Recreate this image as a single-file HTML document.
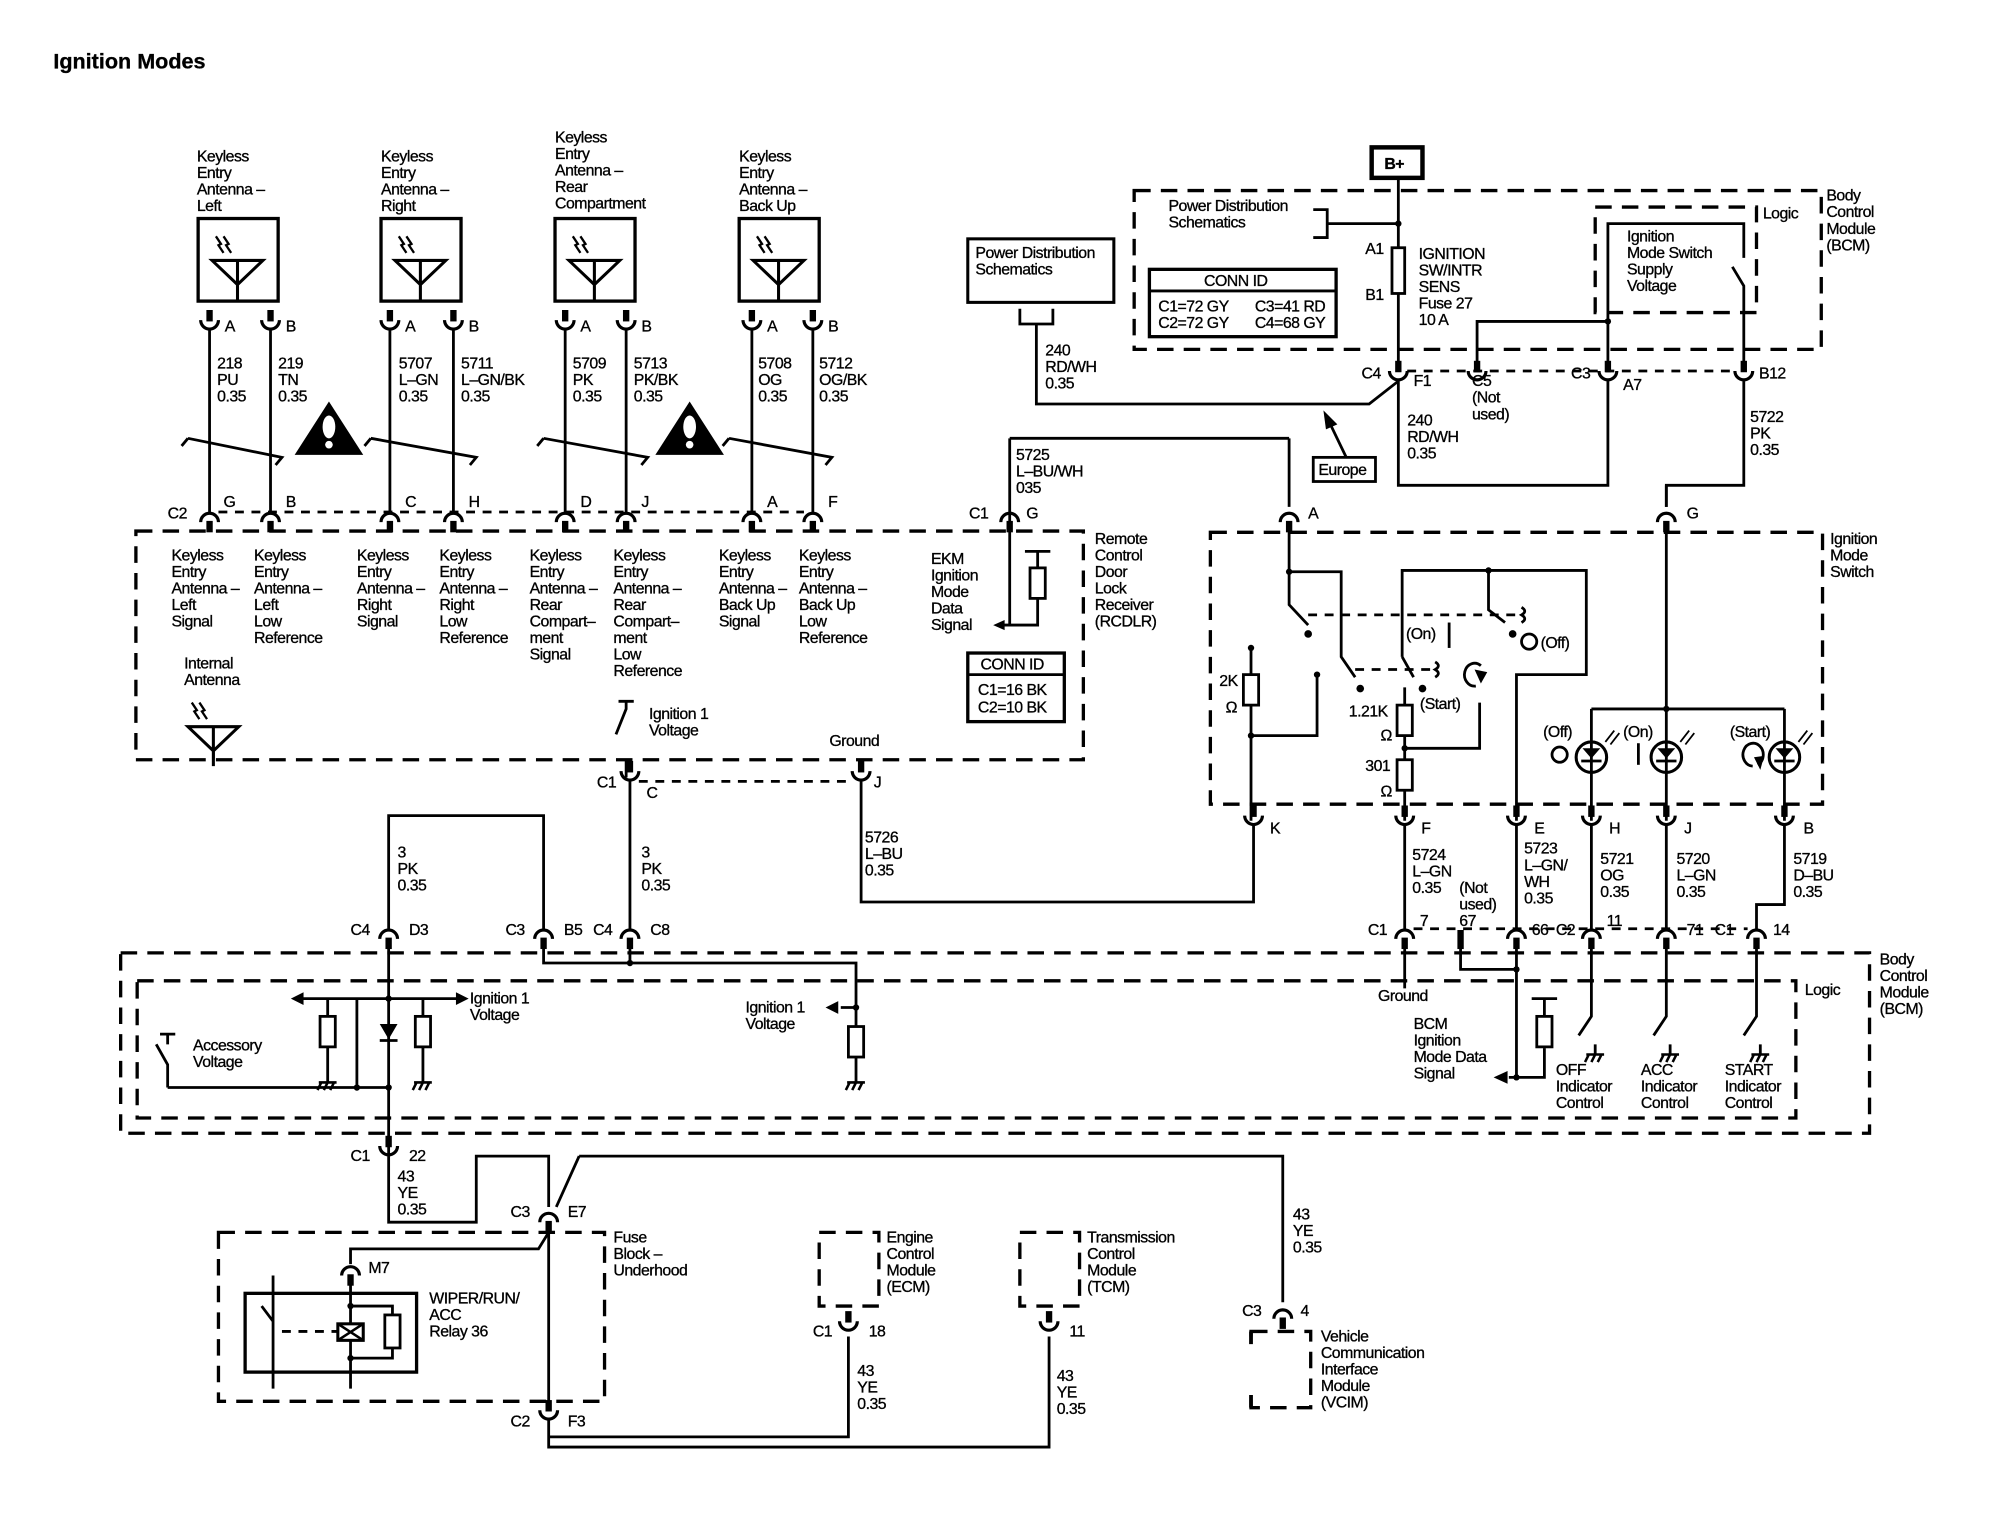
<!DOCTYPE html>
<html><head><meta charset="utf-8"><style>
html,body{margin:0;padding:0;background:#fff}
svg{display:block}
text{font-family:"Liberation Sans",Arial,sans-serif;font-size:12.5px;fill:#000;letter-spacing:-0.4px;stroke:#000;stroke-width:0.25}
.w{stroke:#000;stroke-width:2.2;fill:none}
.d{stroke:#000;stroke-width:2.6;fill:none;stroke-dasharray:13 8}
.ds{stroke:#000;stroke-width:2.2;fill:none;stroke-dasharray:7 6}
.b{stroke:#000;stroke-width:2.6;fill:#fff}
</style></head><body>
<svg width="1994" height="1536" viewBox="0 0 1570 1209" preserveAspectRatio="none" xmlns="http://www.w3.org/2000/svg">
<defs>
<g id="U"><path d="M0,-12V-3" stroke="#000" stroke-width="5"/><path d="M-7,-4A7,7 0 0 0 7,-4" stroke="#000" stroke-width="2.5" fill="none"/></g>
<g id="N"><path d="M0,12V3" stroke="#000" stroke-width="5"/><path d="M-7,4A7,7 0 0 1 7,4" stroke="#000" stroke-width="2.5" fill="none"/></g>
<g id="G"><path d="M-7,0H7M-5,0l-3,6M0,0l-3,6M5,0l-3,6" stroke="#000" stroke-width="2" fill="none"/></g>
<g id="ANT"><path d="M-20,0H20L0,19ZM0,0V31" stroke="#000" stroke-width="2.4" fill="none"/><path d="M-17,-19l4,6-2,1 4,6M-11,-19l4,6-2,1 4,6" stroke="#000" stroke-width="1.8" fill="none"/></g>
<g id="R"><rect x="-6" y="0" width="12" height="24" fill="#fff" stroke="#000" stroke-width="2.2"/></g>
<g id="WARN"><path d="M0,-22L27,20H-27Z" fill="#000"/><ellipse cx="0" cy="-2" rx="5" ry="9" fill="#fff"/><circle cx="0" cy="12" r="3" fill="#fff"/></g>
</defs>

<text x="42" y="54" style="font-size:17px;font-weight:bold;letter-spacing:0">Ignition Modes</text>

<g>
<text x="155" y="127"><tspan x="155">Keyless</tspan><tspan x="155" dy="13">Entry</tspan><tspan x="155" dy="13">Antenna –</tspan><tspan x="155" dy="13">Left</tspan></text>
<text x="300" y="127"><tspan x="300">Keyless</tspan><tspan x="300" dy="13">Entry</tspan><tspan x="300" dy="13">Antenna –</tspan><tspan x="300" dy="13">Right</tspan></text>
<text x="437" y="112"><tspan x="437">Keyless</tspan><tspan x="437" dy="13">Entry</tspan><tspan x="437" dy="13">Antenna –</tspan><tspan x="437" dy="13">Rear</tspan><tspan x="437" dy="13">Compartment</tspan></text>
<text x="582" y="127"><tspan x="582">Keyless</tspan><tspan x="582" dy="13">Entry</tspan><tspan x="582" dy="13">Antenna –</tspan><tspan x="582" dy="13">Back Up</tspan></text>
<rect class="b" x="156" y="172" width="63" height="65"/>
<rect class="b" x="300" y="172" width="63" height="65"/>
<rect class="b" x="437" y="172" width="63" height="65"/>
<rect class="b" x="582" y="172" width="63" height="65"/>
<use href="#ANT" x="187" y="205"/><use href="#ANT" x="331" y="205"/><use href="#ANT" x="468" y="205"/><use href="#ANT" x="613" y="205"/>
</g>
<g class="w">
<path d="M165,260V403M213,260V403M307,260V403M357,260V403M445,260V403M493,260V403M592,260V403M640,260V403"/>
<path d="M148,345l-5,6M148,345L222,360l-5,6M292,345l-5,6M292,345L375,360l-5,6M428,345l-5,6M428,345L510,360l-5,6M574,345l-5,6M574,345L655,360l-5,6"/>
</g>
<use href="#U" x="165" y="256"/><use href="#U" x="213" y="256"/><use href="#U" x="307" y="256"/><use href="#U" x="357" y="256"/>
<use href="#U" x="445" y="256"/><use href="#U" x="493" y="256"/><use href="#U" x="592" y="256"/><use href="#U" x="640" y="256"/>
<g>
<text x="177" y="261">A</text><text x="225" y="261">B</text><text x="319" y="261">A</text><text x="369" y="261">B</text>
<text x="457" y="261">A</text><text x="505" y="261">B</text><text x="604" y="261">A</text><text x="652" y="261">B</text>
<text x="171" y="290"><tspan x="171">218</tspan><tspan x="171" dy="13">PU</tspan><tspan x="171" dy="13">0.35</tspan></text>
<text x="219" y="290"><tspan x="219">219</tspan><tspan x="219" dy="13">TN</tspan><tspan x="219" dy="13">0.35</tspan></text>
<text x="314" y="290"><tspan x="314">5707</tspan><tspan x="314" dy="13">L–GN</tspan><tspan x="314" dy="13">0.35</tspan></text>
<text x="363" y="290"><tspan x="363">5711</tspan><tspan x="363" dy="13">L–GN/BK</tspan><tspan x="363" dy="13">0.35</tspan></text>
<text x="451" y="290"><tspan x="451">5709</tspan><tspan x="451" dy="13">PK</tspan><tspan x="451" dy="13">0.35</tspan></text>
<text x="499" y="290"><tspan x="499">5713</tspan><tspan x="499" dy="13">PK/BK</tspan><tspan x="499" dy="13">0.35</tspan></text>
<text x="597" y="290"><tspan x="597">5708</tspan><tspan x="597" dy="13">OG</tspan><tspan x="597" dy="13">0.35</tspan></text>
<text x="645" y="290"><tspan x="645">5712</tspan><tspan x="645" dy="13">OG/BK</tspan><tspan x="645" dy="13">0.35</tspan></text>
</g>
<use href="#WARN" x="259" y="338"/><use href="#WARN" x="543" y="338"/>

<path class="ds" d="M172,403H633"/>
<use href="#N" x="165" y="407"/><use href="#N" x="213" y="407"/><use href="#N" x="307" y="407"/><use href="#N" x="357" y="407"/>
<use href="#N" x="445" y="407"/><use href="#N" x="493" y="407"/><use href="#N" x="592" y="407"/><use href="#N" x="640" y="407"/>
<text x="132" y="408">C2</text><text x="176" y="399">G</text><text x="225" y="399">B</text><text x="319" y="399">C</text><text x="369" y="399">H</text>
<text x="457" y="399">D</text><text x="505" y="399">J</text><text x="604" y="399">A</text><text x="652" y="399">F</text>

<path class="d" d="M107,418H853V598H107Z"/>
<g>
<text y="441"><tspan x="135">Keyless</tspan><tspan x="135" dy="13">Entry</tspan><tspan x="135" dy="13">Antenna –</tspan><tspan x="135" dy="13">Left</tspan><tspan x="135" dy="13">Signal</tspan></text>
<text y="441"><tspan x="200">Keyless</tspan><tspan x="200" dy="13">Entry</tspan><tspan x="200" dy="13">Antenna –</tspan><tspan x="200" dy="13">Left</tspan><tspan x="200" dy="13">Low</tspan><tspan x="200" dy="13">Reference</tspan></text>
<text y="441"><tspan x="281">Keyless</tspan><tspan x="281" dy="13">Entry</tspan><tspan x="281" dy="13">Antenna –</tspan><tspan x="281" dy="13">Right</tspan><tspan x="281" dy="13">Signal</tspan></text>
<text y="441"><tspan x="346">Keyless</tspan><tspan x="346" dy="13">Entry</tspan><tspan x="346" dy="13">Antenna –</tspan><tspan x="346" dy="13">Right</tspan><tspan x="346" dy="13">Low</tspan><tspan x="346" dy="13">Reference</tspan></text>
<text y="441"><tspan x="417">Keyless</tspan><tspan x="417" dy="13">Entry</tspan><tspan x="417" dy="13">Antenna –</tspan><tspan x="417" dy="13">Rear</tspan><tspan x="417" dy="13">Compart–</tspan><tspan x="417" dy="13">ment</tspan><tspan x="417" dy="13">Signal</tspan></text>
<text y="441"><tspan x="483">Keyless</tspan><tspan x="483" dy="13">Entry</tspan><tspan x="483" dy="13">Antenna –</tspan><tspan x="483" dy="13">Rear</tspan><tspan x="483" dy="13">Compart–</tspan><tspan x="483" dy="13">ment</tspan><tspan x="483" dy="13">Low</tspan><tspan x="483" dy="13">Reference</tspan></text>
<text y="441"><tspan x="566">Keyless</tspan><tspan x="566" dy="13">Entry</tspan><tspan x="566" dy="13">Antenna –</tspan><tspan x="566" dy="13">Back Up</tspan><tspan x="566" dy="13">Signal</tspan></text>
<text y="441"><tspan x="629">Keyless</tspan><tspan x="629" dy="13">Entry</tspan><tspan x="629" dy="13">Antenna –</tspan><tspan x="629" dy="13">Back Up</tspan><tspan x="629" dy="13">Low</tspan><tspan x="629" dy="13">Reference</tspan></text>
<text y="526"><tspan x="145">Internal</tspan><tspan x="145" dy="13">Antenna</tspan></text>
<text y="566"><tspan x="511">Ignition 1</tspan><tspan x="511" dy="13">Voltage</tspan></text>
<text x="653" y="587">Ground</text>
<text y="444"><tspan x="733">EKM</tspan><tspan x="733" dy="13">Ignition</tspan><tspan x="733" dy="13">Mode</tspan><tspan x="733" dy="13">Data</tspan><tspan x="733" dy="13">Signal</tspan></text>
<text y="428"><tspan x="862">Remote</tspan><tspan x="862" dy="13">Control</tspan><tspan x="862" dy="13">Door</tspan><tspan x="862" dy="13">Lock</tspan><tspan x="862" dy="13">Receiver</tspan><tspan x="862" dy="13">(RCDLR)</tspan></text>
</g>
<use href="#ANT" x="168" y="572"/>
<path class="w" d="M168,590V598"/>
<path class="w" d="M487,552H499M493,552V558L485,578M493,598V612"/>
<path class="w" d="M795,345V492H790M795,492H817V470M817,447V434M807,434H827M1015,345H795"/>
<path d="M782,492l9,-4v8z" fill="#000"/>
<use href="#R" x="817" y="447"/>
<use href="#N" x="795" y="407"/>
<text x="763" y="408">C1</text><text x="808" y="408">G</text>
<text y="362"><tspan x="800">5725</tspan><tspan x="800" dy="13">L–BU/WH</tspan><tspan x="800" dy="13">035</tspan></text>
<rect class="b" x="762" y="514" width="76" height="54"/>
<path class="w" d="M762,531H838"/>
<text x="772" y="527">CONN ID</text><text x="770" y="547">C1=16 BK</text><text x="770" y="561">C2=10 BK</text>

<path class="ds" d="M503,615H672"/>
<use href="#U" x="496" y="611"/><use href="#U" x="678" y="611"/>
<text x="470" y="620">C1</text><text x="509" y="628">C</text><text x="688" y="620">J</text>
<path class="w" d="M678,615V710H987V650"/>
<text y="663"><tspan x="681">5726</tspan><tspan x="681" dy="13">L–BU</tspan><tspan x="681" dy="13">0.35</tspan></text>
<path class="w" d="M496,615V731"/>
<text y="675"><tspan x="505">3</tspan><tspan x="505" dy="13">PK</tspan><tspan x="505" dy="13">0.35</tspan></text>
<path class="w" d="M306,731V642H428V731"/>
<text y="675"><tspan x="313">3</tspan><tspan x="313" dy="13">PK</tspan><tspan x="313" dy="13">0.35</tspan></text>
<use href="#N" x="306" y="735"/><use href="#N" x="428" y="735"/><use href="#N" x="496" y="735"/>
<text x="276" y="736">C4</text><text x="322" y="736">D3</text><text x="398" y="736">C3</text><text x="444" y="736">B5</text><text x="467" y="736">C4</text><text x="512" y="736">C8</text>

<path class="d" d="M95,750H1472V892H95Z"/>
<path class="d" d="M108,772H1414V880H108Z"/>
<text x="1421" y="783">Logic</text>
<text y="759"><tspan x="1480">Body</tspan><tspan x="1480" dy="13">Control</tspan><tspan x="1480" dy="13">Module</tspan><tspan x="1480" dy="13">(BCM)</tspan></text>
<path class="w" d="M306,740V910M238,786H360M258,786V800M258,824V852M281,786V856M132,856H306M333,786V800M333,824V852M132,856V838L123,822M126,814H138M132,814V822"/>
<path d="M229,786l10,-5v10zM369,786l-10,-5v10z" fill="#000"/>
<path d="M299,806H313L306,818Z" fill="#000"/><path class="w" d="M299,819H313"/>
<use href="#R" x="258" y="800"/><use href="#R" x="333" y="800"/>
<use href="#G" x="258" y="852"/><use href="#G" x="333" y="852"/>
<circle cx="306" cy="786" r="2.5"/><circle cx="306" cy="856" r="2.5"/><circle cx="281" cy="856" r="2.5"/>
<text y="790"><tspan x="370">Ignition 1</tspan><tspan x="370" dy="13">Voltage</tspan></text>
<text y="827"><tspan x="152">Accessory</tspan><tspan x="152" dy="13">Voltage</tspan></text>
<path class="w" d="M428,740V758H674V808M674,832V852M496,740V758M662,793H674"/>
<path d="M650,793l10,-5v10z" fill="#000"/>
<use href="#R" x="674" y="808"/><use href="#G" x="674" y="852"/>
<circle cx="496" cy="758" r="2.5"/><circle cx="674" cy="793" r="2.5"/>
<text y="797"><tspan x="587">Ignition 1</tspan><tspan x="587" dy="13">Voltage</tspan></text>

<use href="#U" x="306" y="906"/>
<text x="276" y="914">C1</text><text x="322" y="914">22</text>
<text y="930"><tspan x="313">43</tspan><tspan x="313" dy="13">YE</tspan><tspan x="313" dy="13">0.35</tspan></text>
<path class="w" d="M306,910V962H375V910H432V950M456,910H1010V1025M456,910L438,950"/>
<use href="#N" x="432" y="958"/>
<text x="402" y="958">C3</text><text x="447" y="958">E7</text>
<text y="960"><tspan x="1018">43</tspan><tspan x="1018" dy="13">YE</tspan><tspan x="1018" dy="13">0.35</tspan></text>
<use href="#N" x="1010" y="1034"/>
<text x="978" y="1036">C3</text><text x="1024" y="1036">4</text>
<path class="d" d="M985,1048H1032V1108H985Z"/>
<rect x="980" y="1058" width="20" height="40" fill="#fff"/>
<path class="w" d="M985,1048V1058M985,1098V1108" style="stroke-width:3"/>
<text y="1056"><tspan x="1040">Vehicle</tspan><tspan x="1040" dy="13">Communication</tspan><tspan x="1040" dy="13">Interface</tspan><tspan x="1040" dy="13">Module</tspan><tspan x="1040" dy="13">(VCIM)</tspan></text>

<path class="d" d="M172,970H476V1103H172Z"/>
<text y="978"><tspan x="483">Fuse</tspan><tspan x="483" dy="13">Block –</tspan><tspan x="483" dy="13">Underhood</tspan></text>
<path class="w" d="M432,966V1110M432,970L424,983H276V995"/>
<use href="#N" x="276" y="1000"/>
<text x="290" y="1002">M7</text>
<rect x="193" y="1018" width="135" height="62" fill="none" stroke="#000" stroke-width="2.6"/>
<path class="w" d="M276,1004V1042M276,1055V1093M276,1028H309V1035M309,1061V1069H276M215,1004V1040L206,1028M215,1040V1093"/>
<path class="ds" d="M222,1048H267"/>
<rect x="266" y="1042" width="20" height="13" fill="#fff" stroke="#000" stroke-width="2.4"/>
<path d="M266,1042L286,1055M286,1042L266,1055" stroke="#000" stroke-width="2"/>
<rect x="303" y="1035" width="12" height="26" fill="#fff" stroke="#000" stroke-width="2.2"/>
<circle cx="276" cy="1028" r="2.5"/><circle cx="276" cy="1069" r="2.5"/>
<text y="1026"><tspan x="338">WIPER/RUN/</tspan><tspan x="338" dy="13">ACC</tspan><tspan x="338" dy="13">Relay 36</tspan></text>
<use href="#U" x="432" y="1114"/>
<text x="402" y="1123">C2</text><text x="447" y="1123">F3</text>
<path class="w" d="M432,1118V1139H826V1052M432,1131H668V1052"/>
<path class="d" d="M645,970H692V1028H645Z"/>
<path class="d" d="M803,970H850V1028H803Z"/>
<use href="#U" x="668" y="1044"/><use href="#U" x="826" y="1044"/>
<text x="640" y="1052">C1</text><text x="684" y="1052">18</text><text x="842" y="1052">11</text>
<text y="1083"><tspan x="675">43</tspan><tspan x="675" dy="13">YE</tspan><tspan x="675" dy="13">0.35</tspan></text>
<text y="1087"><tspan x="832">43</tspan><tspan x="832" dy="13">YE</tspan><tspan x="832" dy="13">0.35</tspan></text>
<text y="978"><tspan x="698">Engine</tspan><tspan x="698" dy="13">Control</tspan><tspan x="698" dy="13">Module</tspan><tspan x="698" dy="13">(ECM)</tspan></text>
<text y="978"><tspan x="856">Transmission</tspan><tspan x="856" dy="13">Control</tspan><tspan x="856" dy="13">Module</tspan><tspan x="856" dy="13">(TCM)</tspan></text>

<rect x="1080" y="116" width="40" height="24" fill="#fff" stroke="#000" stroke-width="3.5"/>
<text x="1090" y="133" style="font-weight:bold">B+</text>
<path class="d" d="M893,150H1434V275H893Z"/>
<text><tspan x="1438" y="158">Body</tspan><tspan x="1438" dy="13">Control</tspan><tspan x="1438" dy="13">Module</tspan><tspan x="1438" dy="13">(BCM)</tspan></text>
<path class="w" d="M1101,140V288M1034,165H1045V187H1034M1045,176H1101"/>
<circle cx="1101" cy="176" r="2.5"/>
<text y="166"><tspan x="920">Power Distribution</tspan><tspan x="920" dy="13">Schematics</tspan></text>
<rect x="1096" y="195" width="10" height="36" fill="#fff" stroke="#000" stroke-width="2.2"/>
<text x="1075" y="200">A1</text><text x="1075" y="236">B1</text>
<text y="204"><tspan x="1117">IGNITION</tspan><tspan x="1117" dy="13">SW/INTR</tspan><tspan x="1117" dy="13">SENS</tspan><tspan x="1117" dy="13">Fuse 27</tspan><tspan x="1117" dy="13">10 A</tspan></text>
<rect x="905" y="212" width="147" height="53" fill="#fff" stroke="#000" stroke-width="2.6"/>
<path class="w" d="M905,229H1052"/>
<text x="948" y="225">CONN ID</text>
<text x="912" y="245">C1=72 GY</text><text x="988" y="245">C3=41 RD</text>
<text x="912" y="258">C2=72 GY</text><text x="988" y="258">C4=68 GY</text>
<path class="d" d="M1256,163H1383V246H1256Z"/>
<text x="1388" y="172">Logic</text>
<text y="190"><tspan x="1281">Ignition</tspan><tspan x="1281" dy="13">Mode Switch</tspan><tspan x="1281" dy="13">Supply</tspan><tspan x="1281" dy="13">Voltage</tspan></text>
<path class="w" d="M1163,288V253H1266M1266,288V176H1373V203M1364,210L1373,225V288"/>
<circle cx="1266" cy="253" r="2.5"/>
<path class="ds" d="M1108,292H1366"/>
<use href="#U" x="1101" y="296"/><use href="#U" x="1163" y="296"/><use href="#U" x="1266" y="296"/><use href="#U" x="1373" y="296"/>
<text x="1072" y="298">C4</text><text x="1113" y="304">F1</text>
<text y="304"><tspan x="1159">C5</tspan><tspan x="1159" dy="13">(Not</tspan><tspan x="1159" dy="13">used)</tspan></text>
<text x="1237" y="298">C3</text><text x="1278" y="307">A7</text><text x="1385" y="298">B12</text>
<path class="w" d="M1101,300V382H1266V300M1373,300V382H1312V399"/>
<text y="335"><tspan x="1108">240</tspan><tspan x="1108" dy="13">RD/WH</tspan><tspan x="1108" dy="13">0.35</tspan></text>
<text y="332"><tspan x="1378">5722</tspan><tspan x="1378" dy="13">PK</tspan><tspan x="1378" dy="13">0.35</tspan></text>
<rect x="762" y="188" width="115" height="50" fill="#fff" stroke="#000" stroke-width="2.4"/>
<text y="203"><tspan x="768">Power Distribution</tspan><tspan x="768" dy="13">Schematics</tspan></text>
<path class="w" d="M803,243V255H829V243M816,255V318H1078L1101,300"/>
<text y="280"><tspan x="823">240</tspan><tspan x="823" dy="13">RD/WH</tspan><tspan x="823" dy="13">0.35</tspan></text>
<rect x="1034" y="360" width="49" height="19" fill="#fff" stroke="#000" stroke-width="2.2"/>
<text x="1038" y="374">Europe</text>
<path class="w" d="M1060,360L1047,333"/>
<path d="M1042,323l2,15 9,-4z" fill="#000"/>

<path class="w" d="M1015,345V399M1312,382V399"/>
<use href="#N" x="1015" y="407"/><use href="#N" x="1312" y="407"/>
<text x="1030" y="408">A</text><text x="1328" y="408">G</text>
<path class="d" d="M953,419H1435V633H953Z"/>
<text y="428"><tspan x="1441">Ignition</tspan><tspan x="1441" dy="13">Mode</tspan><tspan x="1441" dy="13">Switch</tspan></text>
<g class="w">
<path d="M1015,411V476L1030,492M1015,450H1056V517L1067,533"/>
<path d="M1104,517V449H1249V531H1194V646M1104,517L1113,533M1172,449V480L1185,490"/>
<path d="M985,510V531M985,555V646M985,579H1037V531"/>
<path d="M1106,541V555M1106,579V598M1106,623V646M1106,589H1165V553"/>
<path d="M1312,411V646M1253,558H1405M1253,558V646M1405,558V646"/>
</g>
<path class="ds" d="M1030,484H1198M1067,527H1128"/>
<path class="w" d="M1198,478q5,3 0,6q5,3 0,6M1130,521q5,3 0,6q5,3 0,6"/>
<circle cx="1030" cy="499" r="3"/><circle cx="1071" cy="542" r="3"/><circle cx="1120" cy="542" r="3"/><circle cx="1191" cy="499" r="3"/>
<circle cx="1015" cy="450" r="2.5"/><circle cx="1172" cy="449" r="2.5"/><circle cx="985" cy="510" r="2.5"/><circle cx="985" cy="579" r="2.5"/><circle cx="1037" cy="531" r="2.5"/><circle cx="1106" cy="589" r="2.5"/><circle cx="1312" cy="558" r="2.5"/>
<use href="#R" x="985" y="531"/>
<use href="#R" x="1106" y="555"/><use href="#R" x="1106" y="598"/>
<text x="960" y="540">2K</text><text x="965" y="561">Ω</text>
<text x="1062" y="564">1.21K</text><text x="1087" y="583">Ω</text>
<text x="1075" y="607">301</text><text x="1087" y="627">Ω</text>
<circle cx="1204" cy="505" r="6" fill="none" stroke="#000" stroke-width="2.2"/>
<text x="1213" y="510">(Off)</text>
<text x="1107" y="503">(On)</text><path class="w" d="M1141,490V510"/>
<path class="w" d="M1162,540a8,9 0 1 1 4,-16"/><path d="M1161,527l10,2-5,9z" fill="#000"/>
<text x="1118" y="558">(Start)</text>
<g>
<circle cx="1253" cy="596" r="12" fill="#fff" stroke="#000" stroke-width="2.4"/>
<circle cx="1312" cy="596" r="12" fill="#fff" stroke="#000" stroke-width="2.4"/>
<circle cx="1405" cy="596" r="12" fill="#fff" stroke="#000" stroke-width="2.4"/>
<path d="M1246,589H1260L1253,597Z M1305,589H1319L1312,597Z M1398,589H1412L1405,597Z" fill="#000"/>
<path class="w" d="M1245,599H1261M1304,599H1320M1397,599H1413M1253,584V608M1312,584V608M1405,584V608"/>
<path class="w" d="M1264,584l7,-9M1268,586l7,-9M1323,584l7,-9M1327,586l7,-9M1416,584l7,-9M1420,586l7,-9" style="stroke-width:1.4"/>
<circle cx="1228" cy="594" r="6" fill="none" stroke="#000" stroke-width="2.2"/>
<path class="w" d="M1290,585V602"/>
<path class="w" d="M1380,603a8,9 0 1 1 4,-1"/><path d="M1381,596l8,-1-3,11z" fill="#000"/>
<text x="1215" y="580">(Off)</text><text x="1278" y="580">(On)</text><text x="1362" y="580">(Start)</text>
</g>
<use href="#U" x="987" y="646"/><use href="#U" x="1106" y="646"/><use href="#U" x="1194" y="646"/><use href="#U" x="1253" y="646"/><use href="#U" x="1312" y="646"/><use href="#U" x="1405" y="646"/>
<text x="1000" y="656">K</text><text x="1119" y="656">F</text><text x="1208" y="656">E</text><text x="1267" y="656">H</text><text x="1326" y="656">J</text><text x="1420" y="656">B</text>
<path class="w" d="M1106,650V731M1194,650V731M1253,650V731M1312,650V731M1405,650V712H1383V731"/>
<text y="677"><tspan x="1112">5724</tspan><tspan x="1112" dy="13">L–GN</tspan><tspan x="1112" dy="13">0.35</tspan></text>
<text y="672"><tspan x="1200">5723</tspan><tspan x="1200" dy="13">L–GN/</tspan><tspan x="1200" dy="13">WH</tspan><tspan x="1200" dy="13">0.35</tspan></text>
<text y="703"><tspan x="1149">(Not</tspan><tspan x="1149" dy="13">used)</tspan><tspan x="1149" dy="13">67</tspan></text>
<text y="680"><tspan x="1260">5721</tspan><tspan x="1260" dy="13">OG</tspan><tspan x="1260" dy="13">0.35</tspan></text>
<text y="680"><tspan x="1320">5720</tspan><tspan x="1320" dy="13">L–GN</tspan><tspan x="1320" dy="13">0.35</tspan></text>
<text y="680"><tspan x="1412">5719</tspan><tspan x="1412" dy="13">D–BU</tspan><tspan x="1412" dy="13">0.35</tspan></text>
<path class="ds" d="M1113,731H1376"/>
<use href="#N" x="1106" y="735"/><use href="#N" x="1194" y="735"/><use href="#N" x="1253" y="735"/><use href="#N" x="1312" y="735"/><use href="#N" x="1383" y="735"/>
<path d="M1150,732V747" stroke="#000" stroke-width="5"/>
<text x="1077" y="736">C1</text><text x="1118" y="729">7</text><text x="1206" y="736">66</text><text x="1225" y="736">C2</text><text x="1265" y="729">11</text><text x="1328" y="736">71</text><text x="1350" y="736">C1</text><text x="1396" y="736">14</text>
<path class="w" d="M1106,740V778M1150,745V763H1194M1194,740V848H1188M1194,848H1216V825M1216,800V786M1206,786H1226"/>
<path d="M1176,848l11,-5v10z" fill="#000"/>
<circle cx="1194" cy="763" r="2.5"/><circle cx="1194" cy="848" r="2.5"/>
<use href="#R" x="1216" y="800"/>
<text x="1085" y="788">Ground</text>
<text y="810"><tspan x="1113">BCM</tspan><tspan x="1113" dy="13">Ignition</tspan><tspan x="1113" dy="13">Mode Data</tspan><tspan x="1113" dy="13">Signal</tspan></text>
<path class="w" d="M1253,740V800L1243,815M1256,822V830M1312,740V800L1302,815M1315,822V830M1383,740V800L1373,815M1386,822V830"/>
<use href="#G" x="1256" y="830"/><use href="#G" x="1315" y="830"/><use href="#G" x="1386" y="830"/>
<text y="846"><tspan x="1225">OFF</tspan><tspan x="1225" dy="13">Indicator</tspan><tspan x="1225" dy="13">Control</tspan></text>
<text y="846"><tspan x="1292">ACC</tspan><tspan x="1292" dy="13">Indicator</tspan><tspan x="1292" dy="13">Control</tspan></text>
<text y="846"><tspan x="1358">START</tspan><tspan x="1358" dy="13">Indicator</tspan><tspan x="1358" dy="13">Control</tspan></text>
</svg>
</body></html>
